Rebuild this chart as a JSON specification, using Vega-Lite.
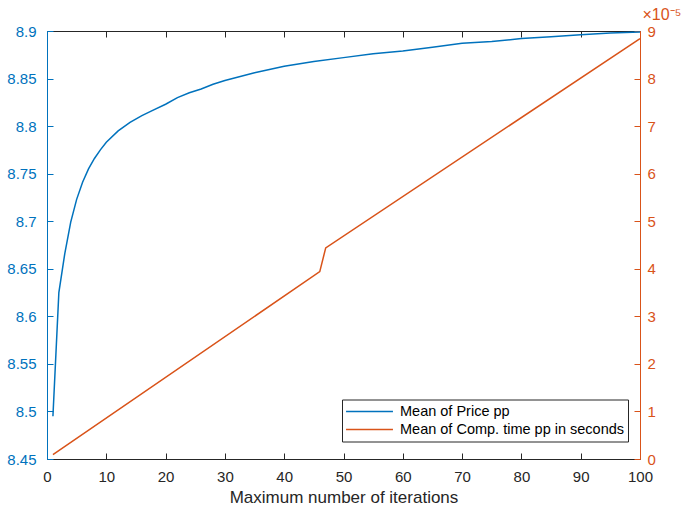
{
  "$schema": "https://vega.github.io/schema/vega-lite/v6.json",
  "autosize": {"type": "none"},
  "width": 593,
  "height": 428,
  "padding": {"left": 47, "top": 31, "right": 43, "bottom": 53},
  "background": "white",
  "config": {
    "view": {"stroke": null},
    "axis": {"grid": false, "labelFont": "Liberation Sans", "titleFont": "Liberation Sans", "labelFontSize": 15, "titleFontSize": 17, "titleFontWeight": "normal", "tickSize": -6, "domainWidth": 1, "tickWidth": 1},
    "legend": {"labelFont": "Liberation Sans"}
  },
  "data": {
    "values": [
      {"iter": 1, "series": "Mean of Price pp", "value": 8.495},
      {"iter": 2, "series": "Mean of Price pp", "value": 8.625},
      {"iter": 3, "series": "Mean of Price pp", "value": 8.666},
      {"iter": 4, "series": "Mean of Price pp", "value": 8.699},
      {"iter": 5, "series": "Mean of Price pp", "value": 8.723},
      {"iter": 6, "series": "Mean of Price pp", "value": 8.741},
      {"iter": 7, "series": "Mean of Price pp", "value": 8.755},
      {"iter": 8, "series": "Mean of Price pp", "value": 8.766},
      {"iter": 9, "series": "Mean of Price pp", "value": 8.775},
      {"iter": 10, "series": "Mean of Price pp", "value": 8.783},
      {"iter": 12, "series": "Mean of Price pp", "value": 8.795},
      {"iter": 14, "series": "Mean of Price pp", "value": 8.804},
      {"iter": 16, "series": "Mean of Price pp", "value": 8.811},
      {"iter": 18, "series": "Mean of Price pp", "value": 8.817},
      {"iter": 20, "series": "Mean of Price pp", "value": 8.823},
      {"iter": 22, "series": "Mean of Price pp", "value": 8.830},
      {"iter": 24, "series": "Mean of Price pp", "value": 8.835},
      {"iter": 26, "series": "Mean of Price pp", "value": 8.839},
      {"iter": 28, "series": "Mean of Price pp", "value": 8.844},
      {"iter": 30, "series": "Mean of Price pp", "value": 8.848},
      {"iter": 35, "series": "Mean of Price pp", "value": 8.856},
      {"iter": 40, "series": "Mean of Price pp", "value": 8.863},
      {"iter": 45, "series": "Mean of Price pp", "value": 8.868},
      {"iter": 50, "series": "Mean of Price pp", "value": 8.872},
      {"iter": 55, "series": "Mean of Price pp", "value": 8.876},
      {"iter": 60, "series": "Mean of Price pp", "value": 8.879},
      {"iter": 65, "series": "Mean of Price pp", "value": 8.883},
      {"iter": 70, "series": "Mean of Price pp", "value": 8.887},
      {"iter": 75, "series": "Mean of Price pp", "value": 8.889},
      {"iter": 80, "series": "Mean of Price pp", "value": 8.892},
      {"iter": 85, "series": "Mean of Price pp", "value": 8.894},
      {"iter": 90, "series": "Mean of Price pp", "value": 8.896},
      {"iter": 95, "series": "Mean of Price pp", "value": 8.898},
      {"iter": 100, "series": "Mean of Price pp", "value": 8.899},
      {"iter": 1, "series": "Mean of Comp. time pp in seconds", "value": 0.0000009},
      {"iter": 46, "series": "Mean of Comp. time pp in seconds", "value": 0.0000394},
      {"iter": 47, "series": "Mean of Comp. time pp in seconds", "value": 0.0000444},
      {"iter": 100, "series": "Mean of Comp. time pp in seconds", "value": 0.0000884}
    ]
  },
  "encoding": {
    "x": {"field": "iter", "type": "quantitative", "scale": {"domain": [0, 100], "nice": false, "zero": false}},
    "color": {"field": "series", "type": "nominal",
      "scale": {"domain": ["Mean of Price pp", "Mean of Comp. time pp in seconds"], "range": ["#0072BD", "#D95319"]},
      "legend": {"orient": "none", "legendX": 295, "legendY": 368.5, "title": null, "symbolType": "stroke", "symbolSize": 2200, "symbolStrokeWidth": 1.5, "clipHeight": 18, "labelFontSize": 14.5, "labelLimit": 400, "labelColor": "#000000", "strokeColor": "#262626", "fillColor": "white", "padding": 3, "labelOffset": 6, "rowPadding": 0}}
  },
  "layer": [
    {
      "transform": [{"filter": "datum.series === 'Mean of Price pp'"}],
      "mark": {"type": "line", "strokeWidth": 1.5},
      "encoding": {
        "x": {"field": "iter", "type": "quantitative", "axis": {"orient": "bottom", "title": "Maximum number of iterations", "values": [0,10,20,30,40,50,60,70,80,90,100], "domainColor": "#262626", "tickColor": "#262626", "labelColor": "#262626", "titleColor": "#262626", "labelPadding": 16, "titlePadding": 5, "labelFlush": false}},
        "y": {"field": "value", "type": "quantitative", "scale": {"domain": [8.45, 8.9], "nice": false, "zero": false},
          "axis": {"orient": "left", "title": null, "values": [8.45, 8.5, 8.55, 8.6, 8.65, 8.7, 8.75, 8.8, 8.85, 8.9], "format": "~g", "domainColor": "#0072BD", "tickColor": "#0072BD", "labelColor": "#0072BD", "labelPadding": 17, "labelFlush": false}}
      }
    },
    {
      "transform": [{"filter": "datum.series === 'Mean of Comp. time pp in seconds'"}],
      "mark": {"type": "line", "strokeWidth": 1.5},
      "encoding": {
        "x": {"field": "iter", "type": "quantitative", "axis": {"orient": "top", "title": null, "labels": false, "values": [0,10,20,30,40,50,60,70,80,90,100], "domainColor": "#262626", "tickColor": "#262626"}},
        "y": {"field": "value", "type": "quantitative", "scale": {"domain": [0, 0.00009], "nice": false, "zero": false},
          "axis": {"orient": "right", "values": [0, 0.00001, 0.00002, 0.00003, 0.00004, 0.00005, 0.00006, 0.00007, 0.00008, 0.00009], "labelExpr": "format(round(datum.value*100000), 'd')", "domainColor": "#D95319", "tickColor": "#D95319", "labelColor": "#D95319", "labelPadding": 13, "labelFlush": false,
            "title": "×10⁻⁵", "titleColor": "#D95319", "titleFontSize": 16, "titleAngle": 0, "titleX": 2, "titleY": -12, "titleAlign": "left", "titleBaseline": "alphabetic"}}
      }
    }
  ],
  "resolve": {"scale": {"y": "independent"}, "axis": {"x": "independent"}}
}
